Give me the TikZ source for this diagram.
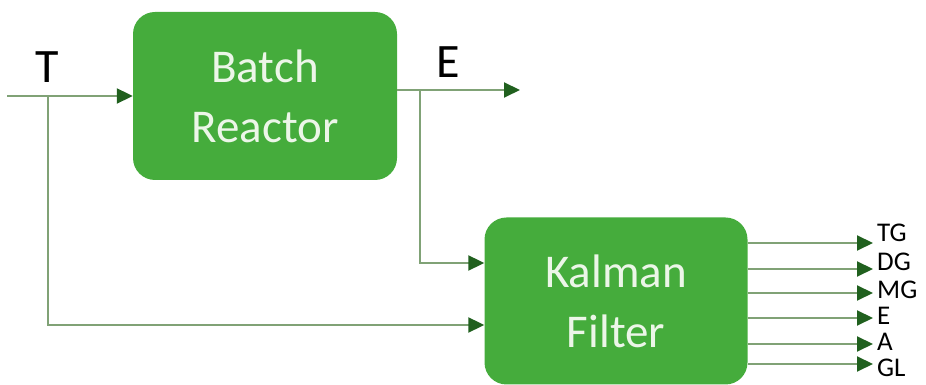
\documentclass[tikz,border=0pt]{standalone}
\usepackage{fontspec}
\setmainfont{Carlito}
\usetikzlibrary{arrows.meta}
\definecolor{boxg}{RGB}{69,172,60}
\definecolor{lineg}{RGB}{128,162,118}
\definecolor{tipg}{RGB}{32,96,30}
\definecolor{txtg}{RGB}{236,246,232}

\begin{document}
\begin{tikzpicture}[x=1pt, y=1pt, block/.style={rectangle, rounded corners=22pt, fill=boxg, text=txtg, minimum width=264pt, minimum height=168pt, align=center, font=\fontsize{47}{60}\selectfont}, link/.style={color=lineg, line width=2pt, -{Triangle[length=16pt, width=15pt, color=tipg, fill=tipg]}}, sig/.style={inner sep=0pt, font=\fontsize{48}{48}\selectfont}, outlbl/.style={anchor=west, inner sep=0pt, font=\fontsize{27}{27}\selectfont}]

    \useasboundingbox (0,0) rectangle (926,385);

    \node[block] (reactor) at (265,289) {Batch\\Reactor};
    \node[block, minimum width=263pt, minimum height=167pt] (kalman) at (616,84) {Kalman\\Filter};
    \coordinate (input) at (7,289);
    \coordinate (tsplit) at (48,289);
    \coordinate (eout) at (520,295);
    \coordinate (esplit) at (420,295);
    \node[sig] (tlbl) at (47,318) {T};
    \node[sig] (elbl) at (448,323) {E};

    \draw[link] (input) -- (reactor);
    \draw[link] (reactor.east |- eout) -- (eout);
    \draw[link] (tsplit) |- ([yshift=-24pt]kalman.west);
    \draw[link] (esplit) |- ([yshift=38pt]kalman.west);

    % estimated states
    \foreach \dy/\ly/\name in {58/68/TG, 32/39/DG, 8/11/MG, -17/-15/E, -43/-41/A, -63/-67/GL} {
        \node[outlbl] (out\name) at (877,84+\ly) {\name};
        \draw[link, shorten >=4pt] ([yshift=\dy pt]kalman.east) coordinate (s) -- (s -| out\name.west);
    }

\end{tikzpicture}
\end{document}
